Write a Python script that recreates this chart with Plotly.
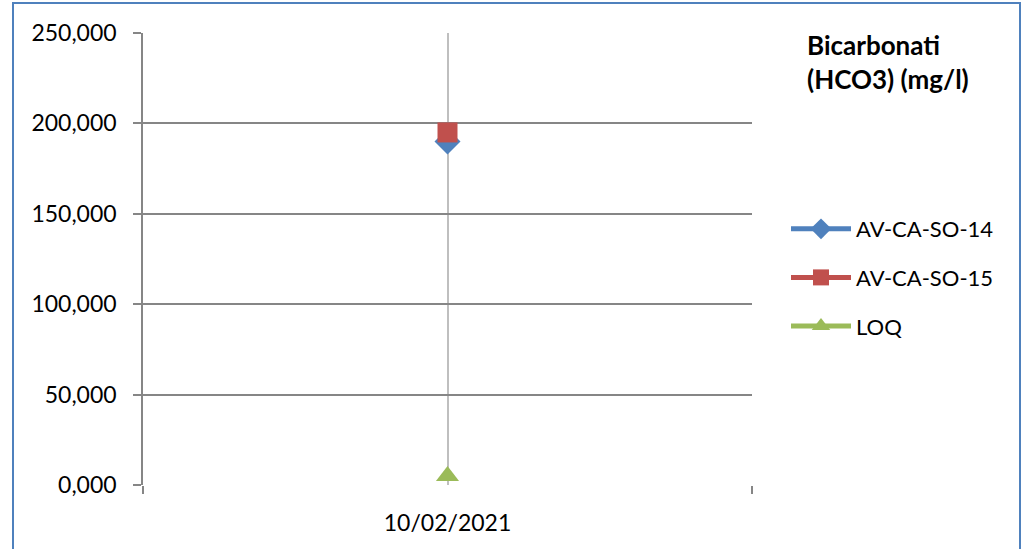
import plotly.graph_objects as go

dates = ["10/02/2021"]
x_pos = [0]
av14 = [190.0]
av15 = [195.0]
loq = [5.0]
y_ticks = [0, 50, 100, 150, 200, 250]

FONT = "Lato"
W, H = 1028, 549
L, R, T, B = 143, 752, 33, 485

def px_x(p):
    return (p - L) / (R - L)

def px_y(p):
    return (B - p) / (B - T)

fig = go.Figure()
fig.add_trace(go.Scatter(x=x_pos, y=av14, name="AV-CA-SO-14", legendgroup="a",
                         mode="lines+markers",
                         line=dict(color="#4F81BD", width=5),
                         marker=dict(symbol="diamond", size=20, color="#4F81BD")))
fig.add_trace(go.Scatter(x=x_pos, y=av15, name="AV-CA-SO-15", legendgroup="b",
                         mode="lines+markers",
                         line=dict(color="#C0504D", width=5),
                         marker=dict(symbol="square", size=20, color="#C0504D")))
fig.add_trace(go.Scatter(x=x_pos, y=loq, name="LOQ", legendgroup="c",
                         mode="lines+markers",
                         line=dict(color="#9BBB59", width=5),
                         marker=dict(symbol="triangle-up", size=20, color="#9BBB59")))

fig.update_layout(
    width=W, height=H,
    margin=dict(l=L, r=W - R, t=T, b=H - B),
    paper_bgcolor="white", plot_bgcolor="white",
    font=dict(family=FONT, size=23, color="black"),
    separators=",.",
    showlegend=True,
    legend=dict(x=px_x(786), y=px_y(208), xanchor="left", yanchor="top",
                font=dict(family=FONT, size=22), tracegroupgap=17,
                itemwidth=60, bgcolor="rgba(0,0,0,0)"),
    xaxis=dict(range=[-0.5, 0.5], tickvals=x_pos, ticktext=dates,
               showgrid=True, gridcolor="#BFBFBF", gridwidth=1.5,
               ticks="", zeroline=False, showline=False,
               ticklabelstandoff=22,
               minor=dict(tickvals=[-0.5, 0.5], ticks="outside", ticklen=8,
                          tickcolor="#868686", tickwidth=1.5,
                          showgrid=True, gridcolor="#BFBFBF", gridwidth=1.5),
               fixedrange=True),
    yaxis=dict(range=[0, 250], tickvals=y_ticks, tickformat=".3f",
               showgrid=True, gridcolor="#868686", gridwidth=1.5,
               ticks="outside", ticklen=8, tickcolor="#868686", tickwidth=1.5,
               showline=True, linecolor="#868686", linewidth=1.5,
               zeroline=False, ticklabelstandoff=12, fixedrange=True),
    annotations=[dict(text="<b>Bicarbonati<br>(HCO3) (mg/l)</b>",
                      xref="paper", yref="paper", x=px_x(805), y=px_y(27),
                      xanchor="left", yanchor="top", align="left",
                      showarrow=False, font=dict(family=FONT, size=26))],
    shapes=[dict(type="rect", xref="paper", yref="paper",
                 x0=px_x(13), x1=px_x(1020), y0=px_y(600), y1=px_y(3),
                 line=dict(color="#4F81BD", width=2), layer="below")],
)

fig.write_html("out.html",
               config={"displayModeBar": False},
               post_script="document.body.style.margin='0';document.body.style.overflow='hidden';")
